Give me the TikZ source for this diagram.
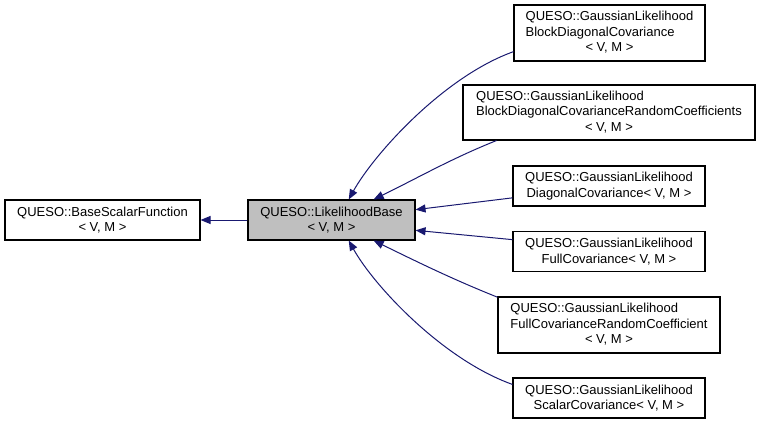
\documentclass[tikz,border=0pt]{standalone}
\usepackage{fontspec}
\setmainfont{Liberation Sans}
\usetikzlibrary{arrows.meta}
\definecolor{edgeblue}{RGB}{25,25,112}
\definecolor{basegray}{RGB}{191,191,191}
% two left lines, template line centred below
\newcommand{\tmplname}[1]{\begin{tabular}{@{}l@{}}#1\\\multicolumn{1}{@{}c@{}}{< V, M >}\end{tabular}}
\begin{document}
\begin{tikzpicture}[x=0.75pt,y=0.75pt,yscale=-1,xscale=1,
  cls/.style={draw=black,line width=0.8pt,fill=white,inner sep=0pt,
    font=\fontsize{9.75}{11.6}\selectfont,align=center,minimum height=30pt},
  inh/.style={draw=edgeblue,line width=0.75pt,-{Triangle[length=7.5pt,width=6pt]}}]
\useasboundingbox (0,0) rectangle (760,424);
%Base classes
\node[cls,minimum width=146.25pt] (bsf) at (102.5,220) {QUESO::BaseScalarFunction\\< V, M >};
\node[cls,minimum width=125.25pt,fill=basegray] (lb) at (331.5,220) {QUESO::LikelihoodBase\\< V, M >};
%Derived classes
\node[cls,minimum width=143.25pt,minimum height=42pt] (b1) at (609.5,33) {\tmplname{QUESO::GaussianLikelihood\\BlockDiagonalCovariance}};
\node[cls,minimum width=219pt,minimum height=41.25pt] (b2) at (609,112.5) {\tmplname{QUESO::GaussianLikelihood\\BlockDiagonalCovarianceRandomCoefficients}};
\node[cls,minimum width=144pt] (b3) at (609,186) {QUESO::GaussianLikelihood\\DiagonalCovariance< V, M >};
\node[cls,minimum width=144pt] (b4) at (609,251.5) {QUESO::GaussianLikelihood\\FullCovariance< V, M >};
\node[cls,minimum width=166.5pt,minimum height=42pt] (b5) at (609,325) {\tmplname{QUESO::GaussianLikelihood\\FullCovarianceRandomCoefficient}};
\node[cls,minimum width=144pt] (b6) at (609,398) {QUESO::GaussianLikelihood\\ScalarCovariance< V, M >};
%Inheritance edges
\draw[inh] (lb) -- (bsf);
\draw[inh] (b1.191) .. controls +(-70,25) and +(25,-45) .. (lb.50);
\draw[inh] (b2.194) .. controls +(-45,18) and +(45,-22) .. (lb.26);
\draw[inh] (b3.187) -- (lb.7);
\draw[inh] (b4.173) -- (lb.-7);
\draw[inh] (b5.166) .. controls +(-45,-18) and +(45,22) .. (lb.-26);
\draw[inh] (b6.172) .. controls +(-70,-25) and +(25,45) .. (lb.-50);
\end{tikzpicture}
\end{document}
